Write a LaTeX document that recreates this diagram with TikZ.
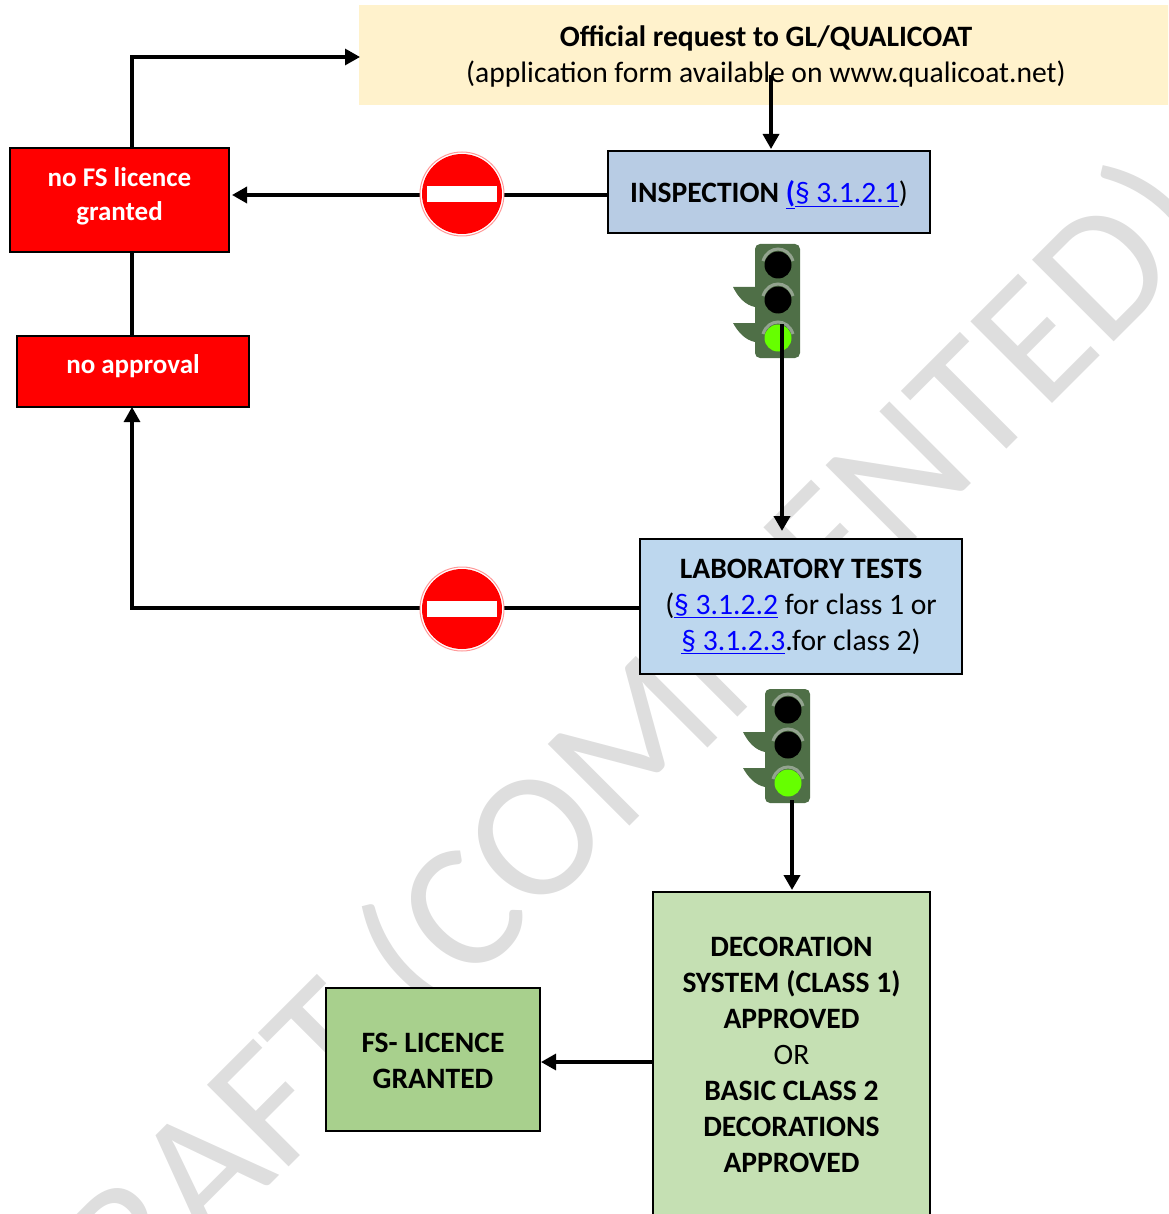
\documentclass[tikz,border=0pt]{standalone}
\usepackage{fontspec}
\setmainfont{Carlito}
\usetikzlibrary{arrows.meta}
\definecolor{reqfill}{HTML}{FFF2CC}
\definecolor{inspfill}{HTML}{B8CCE4}
\definecolor{labfill}{HTML}{BDD7EE}
\definecolor{decofill}{HTML}{C5E0B3}
\definecolor{licfill}{HTML}{A8D08D}
\definecolor{lightbody}{HTML}{4F6F47}
\definecolor{lightarc}{HTML}{93A38F}
\definecolor{lampgreen}{HTML}{66FF00}
\definecolor{markgray}{HTML}{DEDEDE}
\newcommand{\reflink}[1]{\textcolor{blue}{\underline{#1}}}
\tikzset{
  box/.style={draw=black,line width=2pt,align=center,inner sep=0pt,
    font=\fontsize{29.6}{36}\selectfont},
  redbox/.style={box,fill=red,text=white,font=\fontsize{27}{34}\selectfont\bfseries},
  conn/.style={draw=black,line width=3.1pt},
  arr/.style={conn,-{Triangle[length=15pt,width=16pt]}},
  fatarr/.style={arr,line width=4.2pt},
  stopsign/.style={circle,draw=red!40,line width=1pt,fill=white,minimum size=84pt,inner sep=0pt,
    path picture={
      \fill[red] (path picture bounding box.center) circle[radius=40pt];
      \fill[white] ([shift={(-35pt,-8pt)}]path picture bounding box.center) rectangle
        ([shift={(35pt,8pt)}]path picture bounding box.center);
    }},
  trafficlight/.pic={
    \fill[lightbody] (-22,-34) -- (0,-34) -- (0,-14) .. controls (-10,-16) and (-17,-24) .. cycle;
    \fill[lightbody] (-22,2) -- (0,2) -- (0,21) .. controls (-10,19) and (-17,11) .. cycle;
    \fill[lightbody,rounded corners=5pt] (0,-77) rectangle (45,37);
    \foreach \y/\c in {-56/black,-21/black,17/lampgreen}{
      \fill[\c] (23,\y) circle[radius=13.5];
      \draw[lightarc,line width=3pt] (8,\y-4) .. controls (13,\y-20) and (33,\y-20) .. (38,\y-4);
    }
    \coordinate (-out) at (27,3);
  }
}
\begin{document}
\begin{tikzpicture}[x=1pt,y=-1pt]
  \useasboundingbox (0,0) rectangle (1168,1214);
  \clip (0,0) rectangle (1168,1214);
  \node[text=markgray,rotate=45,font=\fontsize{180}{180}\selectfont] (mark) at (603,777) {DRAFT (COMMENTED)};

  \node[box,draw=none,fill=reqfill,text height=60pt,minimum width=814pt,minimum height=100pt] (req) at (766,55)
    {\textbf{Official request to GL/QUALICOAT}\\(application form available on www.qualicoat.net)};
  \node[box,fill=inspfill,text height=28pt,minimum width=322pt,minimum height=82pt] (insp) at (769,192)
    {\textbf{INSPECTION \reflink{(}}\reflink{§ 3.1.2.1})};
  \node[box,fill=labfill,minimum width=322pt,minimum height=135pt] (lab) at (801,606.5)
    {\textbf{LABORATORY TESTS}\\(\reflink{§ 3.1.2.2} for class 1 or\\\reflink{§ 3.1.2.3}.for class 2)};
  \node[box,fill=decofill,text height=237pt,minimum width=277pt,minimum height=324pt] (deco) at (791.5,1054)
    {\textbf{DECORATION}\\\textbf{SYSTEM (CLASS 1)}\\\textbf{APPROVED}\\OR\\\textbf{BASIC CLASS 2}\\\textbf{DECORATIONS}\\\textbf{APPROVED}};
  \node[box,fill=licfill,text height=59pt,minimum width=214pt,minimum height=143pt] (lic) at (433,1059.5)
    {\textbf{FS- LICENCE}\\\textbf{GRANTED}};
  \node[redbox,text depth=12pt,minimum width=219pt,minimum height=104pt] (nofs) at (119.5,200) {no FS licence\\granted};
  \node[redbox,text depth=14pt,minimum width=232pt,minimum height=71pt] (noappr) at (133,371.5) {no approval};

  \pic (lighta) at (755,321) {trafficlight};
  \pic (lightb) at (765,766) {trafficlight};

  \coordinate (reqin) at (771,75);
  \coordinate (upleft) at (132,57);
  \coordinate (licin) at (600,1062);

  \draw[arr,shorten >=-2pt] (nofs.north -| upleft) -- (upleft) -- (req.west |- upleft);
  \draw[arr,line width=3.4pt,shorten >=1pt] (reqin) -- (reqin |- insp.north);
  \draw[arr,line width=3.4pt,shorten >=2pt] (insp.west |- 0,195) -- (nofs.east |- 0,195);
  \draw[conn] (noappr.north -| upleft) -- (nofs.south -| upleft);
  \draw[arr,shorten >=-1pt] (lab.west |- 0,608) -- (upleft |- 0,608) -- (upleft |- noappr.south);
  \draw[fatarr,shorten >=7pt] (lighta-out) -- (lighta-out |- lab.north);
  \draw[fatarr,shorten >=1pt] ([shift={(0,31)}]lightb-out) -- (lightb-out |- deco.north);
  \draw[arr] (deco.west |- licin) -- (lic.east |- licin);

  \node[stopsign] (stopa) at (462,194) {};
  \node[stopsign] (stopb) at (462,609) {};
\end{tikzpicture}
\end{document}
